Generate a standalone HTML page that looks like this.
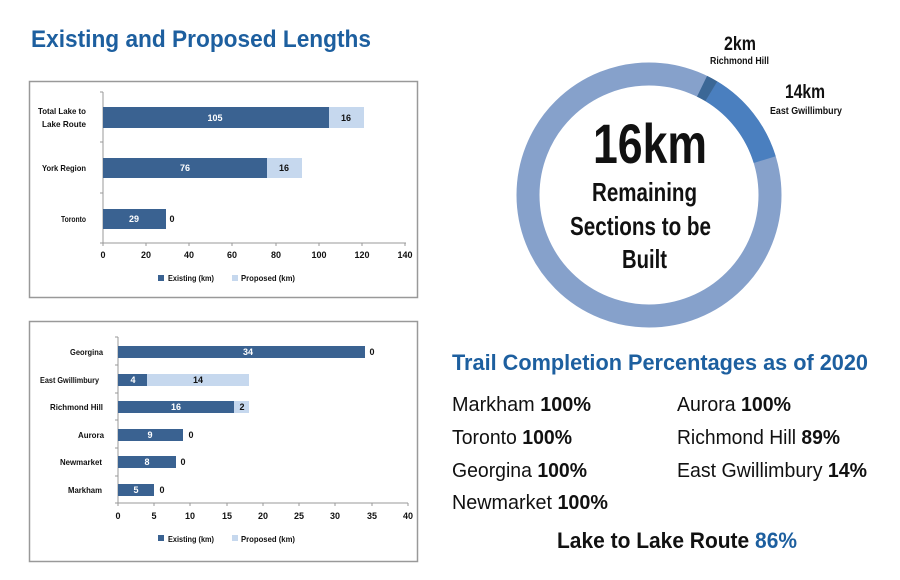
<!DOCTYPE html>
<html><head><meta charset="utf-8"><style>
html,body{margin:0;padding:0;background:#fff;}
svg{display:block;}
text{font-family:"Liberation Sans Narrow","Liberation Sans",sans-serif;}
.c{font-family:"Liberation Sans Narrow","Liberation Sans",sans-serif;font-weight:bold;}
.s{font-family:"Liberation Sans",sans-serif;}
</style></head><body>
<svg width="900" height="580" viewBox="0 0 900 580" xmlns="http://www.w3.org/2000/svg">
<rect width="900" height="580" fill="#fff"/>
<text x="31" y="47" class="s" font-weight="bold" font-size="24" fill="#1d5f9f" textLength="340" lengthAdjust="spacingAndGlyphs">Existing and Proposed Lengths</text>

<!-- top chart -->
<rect x="29.5" y="81.5" width="388" height="216" fill="#fff" stroke="#999" stroke-width="1.5"/>
<g class="c" font-size="9" fill="#111">
<line x1="103" y1="92" x2="103" y2="243" stroke="#999"/>
<line x1="103" y1="243" x2="406" y2="243" stroke="#999"/>
<g stroke="#999"><line x1="100" y1="92" x2="103" y2="92"/><line x1="100" y1="142" x2="103" y2="142"/><line x1="100" y1="193" x2="103" y2="193"/><line x1="100" y1="243" x2="103" y2="243"/>
<line x1="103" y1="243" x2="103" y2="246"/><line x1="146" y1="243" x2="146" y2="246"/><line x1="189" y1="243" x2="189" y2="246"/><line x1="232" y1="243" x2="232" y2="246"/><line x1="276" y1="243" x2="276" y2="246"/><line x1="319" y1="243" x2="319" y2="246"/><line x1="362" y1="243" x2="362" y2="246"/><line x1="405" y1="243" x2="405" y2="246"/></g>
<rect x="103" y="107" width="226" height="21" fill="#3a6291"/><rect x="329" y="107" width="35" height="21" fill="#c6d8ee"/>
<rect x="103" y="158" width="164" height="20" fill="#3a6291"/><rect x="267" y="158" width="35" height="20" fill="#c6d8ee"/>
<rect x="103" y="209" width="63" height="20" fill="#3a6291"/>
<g text-anchor="middle"><text x="215" y="121" fill="#fff">105</text><text x="346" y="121">16</text>
<text x="185" y="171" fill="#fff">76</text><text x="284" y="171">16</text>
<text x="134" y="222" fill="#fff">29</text><text x="172" y="222">0</text>
<text x="103" y="258">0</text><text x="146" y="258">20</text><text x="189" y="258">40</text><text x="232" y="258">60</text><text x="276" y="258">80</text><text x="319" y="258">100</text><text x="362" y="258">120</text><text x="405" y="258">140</text></g>
<g font-size="8.5" lengthAdjust="spacingAndGlyphs"><text x="38" y="114" textLength="48" lengthAdjust="spacingAndGlyphs">Total Lake to</text><text x="42" y="127" textLength="44" lengthAdjust="spacingAndGlyphs">Lake Route</text><text x="42" y="171" textLength="44" lengthAdjust="spacingAndGlyphs">York Region</text><text x="61" y="222" textLength="25" lengthAdjust="spacingAndGlyphs">Toronto</text></g>
<rect x="158" y="275" width="6" height="6" fill="#3a6291"/><text x="168" y="281" font-size="8.5" textLength="46" lengthAdjust="spacingAndGlyphs">Existing (km)</text>
<rect x="232" y="275" width="6" height="6" fill="#c6d8ee"/><text x="241" y="281" font-size="8.5" textLength="54" lengthAdjust="spacingAndGlyphs">Proposed (km)</text>
</g>

<!-- bottom chart -->
<rect x="29.5" y="321.5" width="388" height="240" fill="#fff" stroke="#999" stroke-width="1.5"/>
<g class="c" font-size="9" fill="#111">
<line x1="118" y1="337" x2="118" y2="503" stroke="#999"/>
<line x1="118" y1="503" x2="408" y2="503" stroke="#999"/>
<g stroke="#999"><line x1="115" y1="337" x2="118" y2="337"/><line x1="115" y1="365" x2="118" y2="365"/><line x1="115" y1="393" x2="118" y2="393"/><line x1="115" y1="420" x2="118" y2="420"/><line x1="115" y1="448" x2="118" y2="448"/><line x1="115" y1="476" x2="118" y2="476"/><line x1="115" y1="503" x2="118" y2="503"/>
<line x1="118" y1="503" x2="118" y2="506"/><line x1="154" y1="503" x2="154" y2="506"/><line x1="190" y1="503" x2="190" y2="506"/><line x1="227" y1="503" x2="227" y2="506"/><line x1="263" y1="503" x2="263" y2="506"/><line x1="299" y1="503" x2="299" y2="506"/><line x1="335" y1="503" x2="335" y2="506"/><line x1="372" y1="503" x2="372" y2="506"/><line x1="408" y1="503" x2="408" y2="506"/></g>
<rect x="118" y="346" width="247" height="12" fill="#3a6291"/>
<rect x="118" y="374" width="29" height="12" fill="#3a6291"/><rect x="147" y="374" width="102" height="12" fill="#c6d8ee"/>
<rect x="118" y="401" width="116" height="12" fill="#3a6291"/><rect x="234" y="401" width="15" height="12" fill="#c6d8ee"/>
<rect x="118" y="429" width="65" height="12" fill="#3a6291"/>
<rect x="118" y="456" width="58" height="12" fill="#3a6291"/>
<rect x="118" y="484" width="36" height="12" fill="#3a6291"/>
<g text-anchor="middle">
<text x="248" y="355" fill="#fff">34</text><text x="372" y="355">0</text>
<text x="133" y="383" fill="#fff">4</text><text x="198" y="383">14</text>
<text x="176" y="410" fill="#fff">16</text><text x="242" y="410">2</text>
<text x="150" y="438" fill="#fff">9</text><text x="191" y="438">0</text>
<text x="147" y="465" fill="#fff">8</text><text x="183" y="465">0</text>
<text x="136" y="493" fill="#fff">5</text><text x="162" y="493">0</text>
<text x="118" y="519">0</text><text x="154" y="519">5</text><text x="190" y="519">10</text><text x="227" y="519">15</text><text x="263" y="519">20</text><text x="299" y="519">25</text><text x="335" y="519">30</text><text x="372" y="519">35</text><text x="408" y="519">40</text></g>
<g font-size="8.5">
<text x="70" y="355" textLength="33" lengthAdjust="spacingAndGlyphs">Georgina</text>
<text x="40" y="383" textLength="59" lengthAdjust="spacingAndGlyphs">East Gwillimbury</text>
<text x="50" y="410" textLength="53" lengthAdjust="spacingAndGlyphs">Richmond Hill</text>
<text x="78" y="438" textLength="26" lengthAdjust="spacingAndGlyphs">Aurora</text>
<text x="60" y="465" textLength="42" lengthAdjust="spacingAndGlyphs">Newmarket</text>
<text x="68" y="493" textLength="34" lengthAdjust="spacingAndGlyphs">Markham</text></g>
<rect x="158" y="535" width="6" height="6" fill="#3a6291"/><text x="168" y="542" font-size="8.5" textLength="46" lengthAdjust="spacingAndGlyphs">Existing (km)</text>
<rect x="232" y="535" width="6" height="6" fill="#c6d8ee"/><text x="241" y="542" font-size="8.5" textLength="54" lengthAdjust="spacingAndGlyphs">Proposed (km)</text>
</g>

<!-- donut -->
<g transform="translate(649,195)">
<circle r="121" fill="none" stroke="#86a1cb" stroke-width="23"/>
<circle r="121" fill="none" stroke="#4a7fbf" stroke-width="23" stroke-dasharray="88.7 700" transform="rotate(-59)"/>
<circle r="121" fill="none" stroke="#3b6796" stroke-width="23" stroke-dasharray="10.6 760" transform="rotate(-64)"/>
</g>
<g class="c" fill="#111">
<text x="593" y="163" font-size="56" textLength="114" lengthAdjust="spacingAndGlyphs">16km</text>
<text x="592" y="201" font-size="26" textLength="105" lengthAdjust="spacingAndGlyphs">Remaining</text>
<text x="570" y="235" font-size="26" textLength="141" lengthAdjust="spacingAndGlyphs">Sections to be</text>
<text x="622" y="268" font-size="26" textLength="45" lengthAdjust="spacingAndGlyphs">Built</text>
<text x="724" y="50" font-size="19" textLength="32" lengthAdjust="spacingAndGlyphs">2km</text>
<text x="710" y="64" font-size="10" textLength="59" lengthAdjust="spacingAndGlyphs">Richmond Hill</text>
<text x="785" y="98" font-size="19" textLength="40" lengthAdjust="spacingAndGlyphs">14km</text>
<text x="770" y="114" font-size="10" textLength="72" lengthAdjust="spacingAndGlyphs">East Gwillimbury</text>
</g>

<!-- right text -->
<g class="s" fill="#111">
<text x="452" y="370" font-size="22" font-weight="bold" fill="#1d5f9f" textLength="416" lengthAdjust="spacingAndGlyphs">Trail Completion Percentages as of 2020</text>
<g font-size="20">
<text x="452" y="411" textLength="139" lengthAdjust="spacingAndGlyphs">Markham <tspan font-weight="bold">100%</tspan></text>
<text x="452" y="444" textLength="120" lengthAdjust="spacingAndGlyphs">Toronto <tspan font-weight="bold">100%</tspan></text>
<text x="452" y="477" textLength="135" lengthAdjust="spacingAndGlyphs">Georgina <tspan font-weight="bold">100%</tspan></text>
<text x="452" y="509" textLength="156" lengthAdjust="spacingAndGlyphs">Newmarket <tspan font-weight="bold">100%</tspan></text>
<text x="677" y="411" textLength="114" lengthAdjust="spacingAndGlyphs">Aurora <tspan font-weight="bold">100%</tspan></text>
<text x="677" y="444" textLength="163" lengthAdjust="spacingAndGlyphs">Richmond Hill <tspan font-weight="bold">89%</tspan></text>
<text x="677" y="477" textLength="190" lengthAdjust="spacingAndGlyphs">East Gwillimbury <tspan font-weight="bold">14%</tspan></text>
</g>
<text x="557" y="548" font-size="22" font-weight="bold" textLength="240" lengthAdjust="spacingAndGlyphs">Lake to Lake Route <tspan fill="#1d5f9f">86%</tspan></text>
</g>
</svg>
</body></html>
